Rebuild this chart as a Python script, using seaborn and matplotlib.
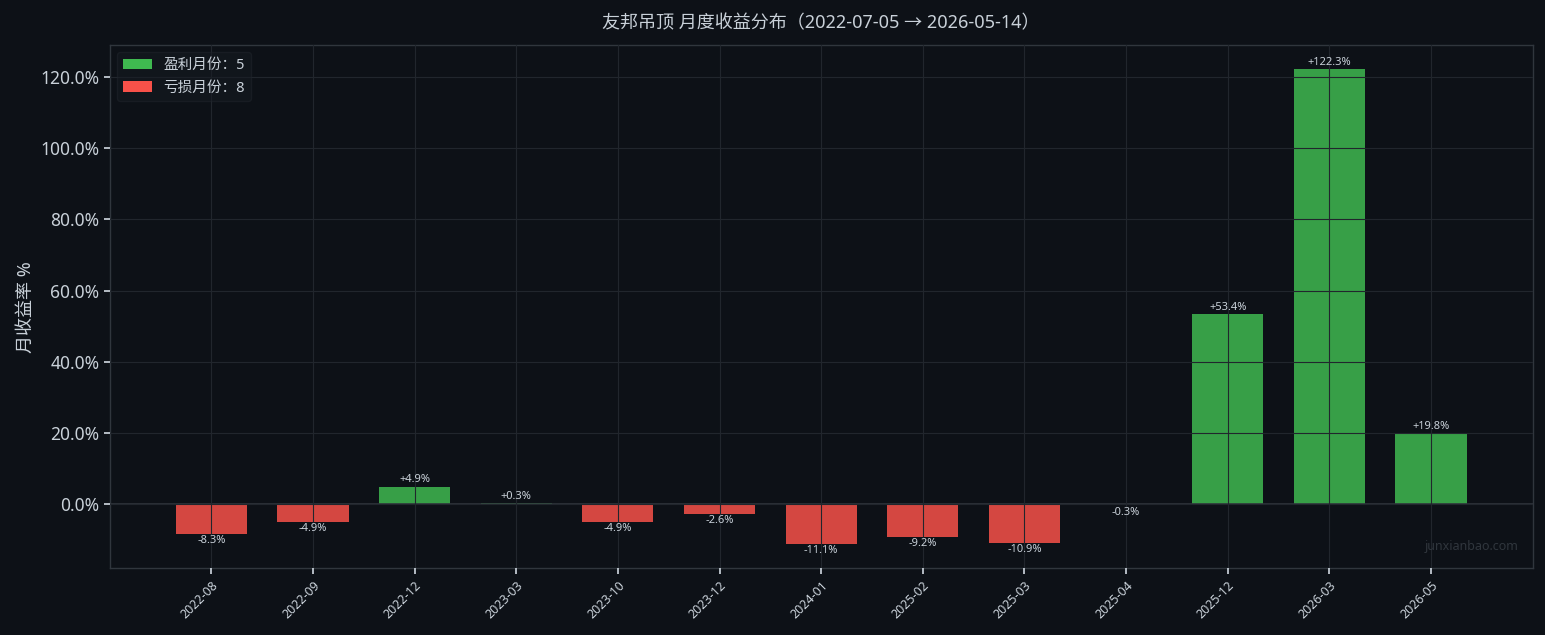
import numpy as np
import pandas as pd
import matplotlib
matplotlib.use("Agg")
import matplotlib.pyplot as plt
from matplotlib.patches import Patch
from matplotlib.ticker import FuncFormatter
import seaborn as sns

# Monthly returns (%)
months = ["2022-08", "2022-09", "2022-12", "2023-03", "2023-10", "2023-12", "2024-01",
          "2025-02", "2025-03", "2025-04", "2025-12", "2026-03", "2026-05"]
returns = [-8.3, -4.9, 4.9, 0.3, -4.9, -2.6, -11.1, -9.2, -10.9, -0.3, 53.4, 122.3, 19.8]

title = "友邦吊顶 月度收益分布（2022-07-05 → 2026-05-14）"

BG = "#0d1117"
GRID = "#21262d"
TXT = "#c9d1d9"
GREEN = "#3fb950"
RED = "#f85149"

sns.set_theme(style="dark")
plt.rcParams['font.family'] = ['Noto Sans', 'Noto Sans CJK SC', 'DejaVu Sans']
plt.rcParams['axes.unicode_minus'] = False

df = pd.DataFrame({"month": months, "ret": returns})
colors = [GREEN if r > 0 else RED for r in returns]

fig, ax = plt.subplots(figsize=(15.45, 6.35), dpi=100)
fig.patch.set_facecolor(BG)
ax.set_facecolor(BG)

sns.barplot(data=df, x="month", y="ret", hue="month", palette=colors, legend=False,
            width=0.7, alpha=0.85, saturation=1, linewidth=0, ax=ax)

ax.set_axisbelow(False)
ax.grid(True, color=GRID, linewidth=0.8)
ax.axhline(0, color="#30363d", linewidth=1.2)

for i, r in enumerate(returns):
    if r >= 0:
        ax.text(i, r + 0.4, f"+{r:.1f}%", ha="center", va="bottom", fontsize=8, color=TXT)
    else:
        ax.text(i, r - 0.4, f"{r:.1f}%", ha="center", va="top", fontsize=8, color=TXT)

ax.set_xlim(-1, len(months))
ax.set_ylim(-18, 129)
ax.yaxis.set_major_formatter(FuncFormatter(lambda v, p: f"{v:.1f}%"))
ax.set_yticks([0, 20, 40, 60, 80, 100, 120])
ax.tick_params(axis="y", colors=TXT, labelsize=12.5, length=4, left=True)
ax.tick_params(axis="x", colors=TXT, labelsize=9, length=4, bottom=True)
plt.setp(ax.get_xticklabels(), rotation=45, ha="right", rotation_mode="anchor")
ax.set_xlabel("")
ax.set_ylabel("月收益率 %", color=TXT, fontsize=13)
ax.set_title(title, color=TXT, fontsize=13, pad=12)

for s in ax.spines.values():
    s.set_color("#30363d")
    s.set_linewidth(1)

handles = [Patch(facecolor=GREEN, edgecolor="none", label=f"盈利月份：{sum(r > 0 for r in returns)}"),
           Patch(facecolor=RED, edgecolor="none", label=f"亏损月份：{sum(r < 0 for r in returns)}")]
leg = ax.legend(handles=handles, loc="upper left", fontsize=10.5, facecolor="#161b22",
                edgecolor=GRID, framealpha=0.5, labelcolor=TXT)

ax.text(0.99, 0.03, "junxianbao.com", transform=ax.transAxes, ha="right", va="bottom",
        fontsize=9, color="#30363d")

fig.subplots_adjust(left=0.071, right=0.992, top=0.929, bottom=0.105)
fig.savefig("out.png", dpi=100, facecolor=BG)
